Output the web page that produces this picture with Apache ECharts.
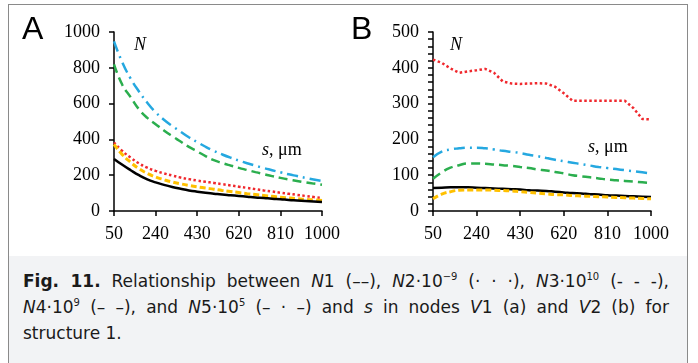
<!DOCTYPE html>
<html>
<head>
<meta charset="UTF-8">
<title>Fig. 11</title>
<script src="https://cdn.jsdelivr.net/npm/echarts@6/dist/echarts.min.js"></script>
<style>
  body { margin: 0; background: #fff; width: 698px; height: 363px; overflow: hidden; position: relative; }
  #frame { position: absolute; left: 8px; top: 4px; width: 678px; height: 251px; border: 1px solid #8a8a8a; background: #fff; }
  #caption { position: absolute; left: 8px; top: 256px; width: 664px; height: 120px; padding: 12px 0 0 14px;
             border-left: 1px solid #8a8a8a; border-right: 1px solid #8a8a8a; background: #f2f3f5;
             font-family: "DejaVu Sans", sans-serif; font-size: 17px; line-height: 26px; color: #1a1a1a; }
  #caption .ln { display: block; width: 646px; white-space: nowrap; }
  #caption .j { text-align: justify; text-align-last: justify; }
  #caption sup { font-size: 10px; line-height: 0; vertical-align: 7px; }
  #chart { position: absolute; left: 0; top: 0; width: 698px; height: 256px; }
</style>
</head>
<body>
<div id="frame"></div>
<div id="chart"></div>
<div id="caption">
  <span class="ln j"><b>Fig. 11.</b> Relationship between <i>N</i>1 (––), <i>N</i>2·10<sup>−9</sup> (· · ·), <i>N</i>3·10<sup>10</sup> (- - -),</span>
  <span class="ln j"><i>N</i>4·10<sup>9</sup> (– –), and <i>N</i>5·10<sup>5</sup> (– · –) and <i>s</i> in nodes <i>V</i>1 (a) and <i>V</i>2 (b) for</span>
  <span class="ln">structure 1.</span>
</div>
<script>
// s, µm
const sVals = ['50','88','126','164','202','240','278','316','354','392','430','468','506','544','582','620','658','696','734','772','810','848','886','924','962','1000'];

// panel A (node V1)
const n1A = [291,258,228,200,177,160,146,134,124,115,108,102,97,92,88,84,80,76,73,69,66,62,59,56,53,50];
const n2A = [383,335,298,266,242,224,210,198,187,178,170,163,157,150,143,136,129,122,115,109,102,96,90,84,78,72];
const n3A = [819,705,636,568,520,485,450,418,388,358,333,307,284,268,254,241,229,217,206,195,185,176,168,160,153,147];
const n4A = [372,315,272,236,210,190,175,162,152,143,135,128,122,115,109,103,97,92,87,82,77,73,69,65,62,58];
const n5A = [948,830,740,668,605,552,510,475,443,412,385,359,336,316,298,282,267,253,240,228,216,205,195,185,176,167];

// panel B (node V2)
const n1B = [64,65,66,66,66,65,64,63,62,61,60,58,57,56,54,52,50,49,47,46,44,43,42,41,40,39];
const n2B = [423,414,398,386,390,393,397,386,362,356,355,356,357,356,347,329,308,308,308,308,308,308,308,287,257,256];
const n3B = [90,108,121,128,133,133,132,130,128,126,123,120,116,113,109,105,100,97,94,91,88,86,84,82,80,78];
const n4B = [34,47,54,58,59,59,59,58,57,56,54,52,50,48,46,45,43,42,41,40,39,38,37,36,35,34];
const n5B = [150,166,172,175,177,177,175,172,168,165,162,157,153,148,143,139,135,131,127,123,120,117,114,111,108,105];

const yTicksA = [0, 200, 400, 600, 800, 1000];
const yTicksB = [0, 100, 200, 300, 400, 500];

const serif = 'Liberation Serif';
const axisCol = '#000';

function xAx(gi) {
  return {
    type: 'category', gridIndex: gi, data: sVals, boundaryGap: false,
    axisLine: { lineStyle: { color: axisCol, width: 1.5 } },
    axisTick: { interval: 4, length: 5, lineStyle: { color: axisCol, width: 1.5 } },
    axisLabel: { interval: 4, fontFamily: serif, fontSize: 18, color: '#000', margin: 14 },
    splitLine: { show: false }
  };
}
function yAx(gi, ticks, minor) {
  return {
    type: 'value', gridIndex: gi, min: ticks[0], max: ticks[ticks.length - 1],
    interval: ticks[1] - ticks[0],
    axisLine: { show: true, lineStyle: { color: axisCol, width: 1.5 } },
    axisTick: { show: true, length: 5, lineStyle: { color: axisCol, width: 1.5 } },
    minorTick: { show: minor, splitNumber: 5, length: 5, lineStyle: { color: axisCol, width: 1.5 } },
    axisLabel: { fontFamily: serif, fontSize: 18, color: '#000', margin: 14, formatter: v => String(v) },
    splitLine: { show: false }
  };
}

const styles = {
  n1: { color: '#000000', width: 2.5, type: 'solid' },
  n2: { color: '#f0282d', width: 2.5, type: [2.5, 2.5] },
  n3: { color: '#2bae4e', width: 2.5, type: [9, 5] },
  n4: { color: '#ffc000', width: 3, type: [6, 3] },
  n5: { color: '#25a8e0', width: 2.5, type: [11, 5, 2, 5] }
};

function line(name, data, gi, st, smooth) {
  return {
    name: name, type: 'line', xAxisIndex: gi, yAxisIndex: gi, data: data,
    showSymbol: false, symbol: 'none', smooth: smooth,
    lineStyle: { color: st.color, width: st.width, type: st.type },
    itemStyle: { color: st.color }
  };
}

const chart = echarts.init(document.getElementById('chart'));
chart.setOption({
  animation: false,
  grid: [
    { left: 114, top: 32, width: 208, height: 179 },
    { left: 433, top: 32, width: 218, height: 179 }
  ],
  xAxis: [xAx(0), xAx(1)],
  yAxis: [yAx(0, yTicksA, false), yAx(1, yTicksB, true)],
  series: [
    line('N5·10⁵', n5A, 0, styles.n5, true),
    line('N3·10¹⁰', n3A, 0, styles.n3, true),
    line('N2·10⁻⁹', n2A, 0, styles.n2, true),
    line('N4·10⁹', n4A, 0, styles.n4, true),
    line('N1', n1A, 0, styles.n1, true),
    line('N2·10⁻⁹', n2B, 1, styles.n2, false),
    line('N5·10⁵', n5B, 1, styles.n5, true),
    line('N3·10¹⁰', n3B, 1, styles.n3, true),
    line('N1', n1B, 1, styles.n1, true),
    line('N4·10⁹', n4B, 1, styles.n4, true)
  ],
  graphic: [
    { type: 'text', x: 22, y: 14, style: { text: 'A', font: '32px "Liberation Sans"', fill: '#000' } },
    { type: 'text', x: 351, y: 14, style: { text: 'B', font: '32px "Liberation Sans"', fill: '#000' } },
    { type: 'text', x: 134, y: 36, style: { text: 'N', font: 'italic 18px "Liberation Serif"', fill: '#000' } },
    { type: 'text', x: 450, y: 36, style: { text: 'N', font: 'italic 18px "Liberation Serif"', fill: '#000' } },
    { type: 'text', x: 262, y: 141, style: { text: '{i|s}, μm', font: '18px "Liberation Serif"', fill: '#000',
        rich: { i: { fontStyle: 'italic', fontFamily: serif, fontSize: 18 } } } },
    { type: 'text', x: 588, y: 138, style: { text: '{i|s}, μm', font: '18px "Liberation Serif"', fill: '#000',
        rich: { i: { fontStyle: 'italic', fontFamily: serif, fontSize: 18 } } } }
  ]
});
</script>
</body>
</html>
